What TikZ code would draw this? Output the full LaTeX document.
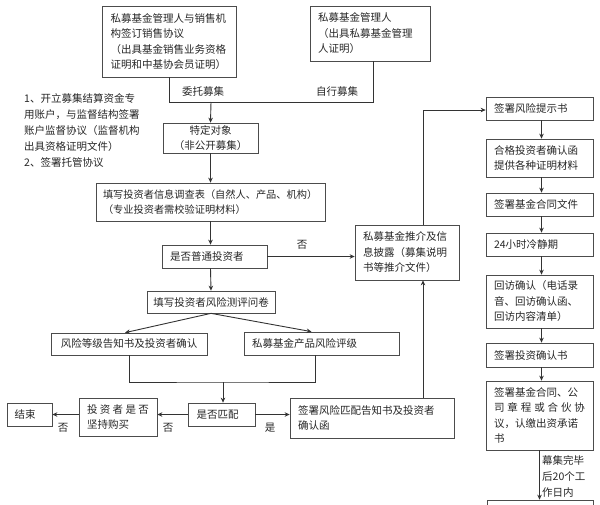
\documentclass[tikz,border=0pt]{standalone}
\usepackage{fontspec}
\setmainfont{Noto Sans CJK SC}
\usetikzlibrary{arrows.meta,calc}
\tikzset{
 box/.style={draw=black!70, line width=0.7pt, inner sep=0pt, align=left, font=\fontsize{10.5}{15.5}\selectfont, text=black!85},
 cbox/.style={box, align=center},
 arr/.style={-{Stealth[length=5pt,width=4.5pt]}, line width=0.9pt, draw=black!80},
 ln/.style={line width=0.9pt, draw=black!80},
 lbl/.style={font=\fontsize{10.5}{16}\selectfont, inner sep=0pt, text=black!85, align=left}
}
\begin{document}
\begin{tikzpicture}[x=1pt,y={(0pt,-1pt)}]
\useasboundingbox (0,0) rectangle (600,504);
% boxes
\node[box, minimum width=134pt, minimum height=71pt, text width=117pt] (A) at (169,41.5) {私募基金管理人与销售机\\构签订销售协议\\（出具基金销售业务资格\\证明和中基协会员证明）};
\node[box, minimum width=120pt, minimum height=55pt, text width=104pt] (B) at (370,33.5) {私募基金管理人\\（出具私募基金管理\\人证明）};
\node[cbox, minimum width=95pt, minimum height=30pt] (C) at (210.5,138) {特定对象\\（非公开募集）};
\node[box, minimum width=229pt, minimum height=38pt, text width=215pt, font=\fontsize{10.2}{15.5}\selectfont] (D) at (210.5,202) {填写投资者信息调查表（自然人、产品、机构）\\（专业投资者需校验证明材料）};
\node[box, minimum width=105pt, minimum height=23pt, text width=89pt] (E) at (214.5,256.5) {是否普通投资者};
\node[box, minimum width=104pt, minimum height=55pt, text width=88pt] (F) at (407,252.5) {私募基金推介及信\\息披露（募集说明\\书等推介文件）};
\node[cbox, minimum width=128pt, minimum height=22pt] (G) at (211,302) {填写投资者风险测评问卷};
\node[cbox, minimum width=156pt, minimum height=22pt] (H) at (129,344) {风险等级告知书及投资者确认};
\node[box, minimum width=155pt, minimum height=23pt, text width=139pt] (I) at (321.5,343.5) {私募基金产品风险评级};
\node[box, minimum width=67pt, minimum height=23pt, text width=50pt] (J) at (221.5,414.5) {是否匹配};
\node[box, minimum width=78pt, minimum height=38pt, text width=62pt] (K) at (118,417) {投\hfill 资\hfill 者\hfill 是\hfill 否\\坚持购买};
\node[box, minimum width=45pt, minimum height=23pt, text width=30pt] (L) at (29.5,414.5) {结束};
\node[box, minimum width=164pt, minimum height=40pt, text width=148pt] (M) at (372,418) {签署风险匹配告知书及投资者\\确认函};
\node[box, minimum width=107pt, minimum height=23pt, text width=91pt] (N) at (539.5,108.5) {签署风险提示书};
\node[box, minimum width=107pt, minimum height=38pt, text width=91pt] (O) at (539.5,158) {合格投资者确认函\\提供各种证明材料};
\node[box, minimum width=107pt, minimum height=23pt, text width=91pt] (P) at (539.5,204.5) {签署基金合同文件};
\node[box, minimum width=107pt, minimum height=23pt, text width=91pt] (Q) at (539.5,244.5) {24小时冷静期};
\node[box, minimum width=107pt, minimum height=53pt, text width=91pt] (R) at (539.5,301.5) {回访确认（电话录\\音、回访确认函、\\回访内容清单）};
\node[box, minimum width=107pt, minimum height=24pt, text width=91pt] (S) at (539.5,355) {签署投资确认书};
\node[box, minimum width=107pt, minimum height=69pt, text width=91pt] (T) at (539.5,415.5) {签署基金合同、公\\司\hfill 章\hfill 程\hfill 或\hfill 合\hfill 伙\hfill 协\\议，认缴出资承诺\\书};
\node[box, minimum width=106pt, minimum height=24pt] (U) at (540,512) {};
% free text
\node[lbl, anchor=north west] (note) at (24,93) {1、开立募集结算资金专\\用账户，与监督结构签署\\账户监督协议（监督机构\\出具资格证明文件）\\2、签署托管协议};
% connectors top
\coordinate (j1) at (211,102);
\draw[ln] (A.south) |- (j1);
\draw[ln] ([xshift=3pt]B.south) |- (j1);
\draw[arr] (j1) -- (C.north);
\node[lbl] (l1) at (203,92) {委托募集};
\node[lbl] (l2) at (337,92) {自行募集};
\draw[arr] (C.south) -- (C.south |- D.north);
\draw[arr] (D.south) -- (D.south |- E.north);
\draw[arr] (E.south -| D.south) -- (G.north);
\draw[arr] (E.east) -- (F.west |- E.east);
\node[lbl] (l3) at (302,245) {否};
\draw[arr] (G.south) -- ([xshift=-4pt]H.north);
\draw[arr] (G.south) -- ([xshift=-10pt]I.north);
\coordinate (j2) at (223,382);
\draw[ln] (H.south) |- (j2) -| ([xshift=-6pt]I.south);
\draw[arr] (j2) -- (J.north -| j2);
\draw[arr] (J.west) -- (K.east |- J.west);
\node[lbl] (l4) at (168,428) {否};
\draw[arr] (K.west |- L.east) -- (L.east);
\node[lbl] (l5) at (63,428) {否};
\draw[arr] (J.east) -- (M.west |- J.east);
\node[lbl] (l6) at (270,428) {是};
\draw[arr] ([xshift=51pt]M.north) -- ([xshift=51pt]M.north |- F.south);
\draw[arr] ([xshift=16pt]F.north) |- ([yshift=-1.5pt]N.west);
% right column
\draw[arr] ([xshift=2pt]N.south) -- ([xshift=2pt]O.north);
\draw[arr] ([xshift=2pt]O.south) -- ([xshift=2pt]P.north);
\draw[arr] ([xshift=2pt]P.south) -- ([xshift=2pt]Q.north);
\draw[arr] ([xshift=2pt]Q.south) -- ([xshift=2pt]R.north);
\draw[arr] ([xshift=2pt]R.south) -- ([xshift=2pt]S.north);
\draw[arr] ([xshift=2pt]S.south) -- ([xshift=2pt]T.north);
\draw[arr] (T.south) -- (U.north -| T.south);
\node[lbl, anchor=north west] (l7) at (542,455) {幕集完毕\\后20个工\\作日内};
\end{tikzpicture}
\end{document}
